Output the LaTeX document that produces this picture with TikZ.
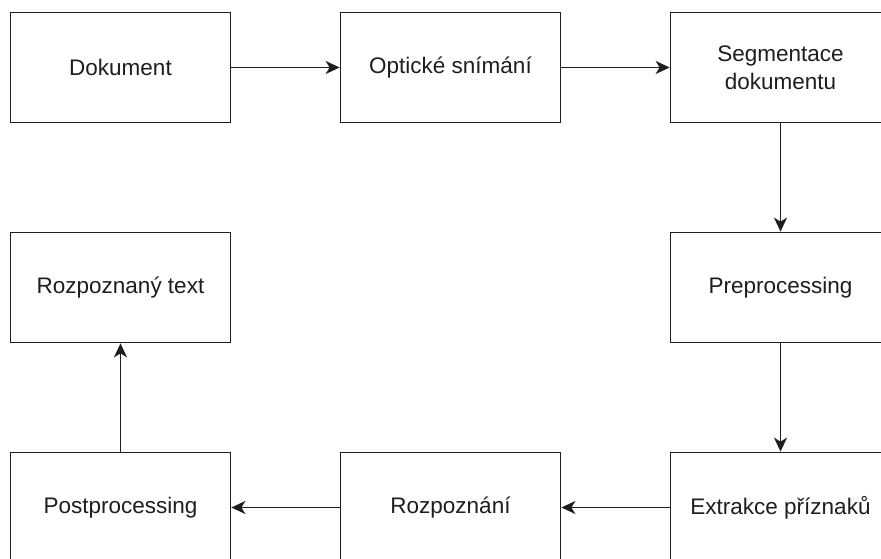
\documentclass[tikz,border=0pt]{standalone}
\usepackage{fontspec}
\setmainfont{Liberation Sans}
\usetikzlibrary{arrows.meta}
\definecolor{ink}{HTML}{1E1E1E}
\begin{document}
\begin{tikzpicture}[x=1pt,y=-1pt,
  stage/.style={draw=ink, line width=1.7pt, fill=white, minimum width=220pt, minimum height=110pt,
    inner sep=0pt, align=center, text=ink, font=\fontsize{22.5}{28}\selectfont},
  flow/.style={draw=ink, line width=1.7pt, -{Stealth[length=14pt,width=13pt,inset=4pt]}}]
  \useasboundingbox (0,0) rectangle (881,559);
  \clip (0,0) rectangle (881,559);
  % top row
  \node[stage] (dok) at (120.5,67.5) {Dokument};
  \node[stage] (opt) at (450.5,67.5) {Optické snímání};
  \node[stage] (seg) at (780.5,67.5) {Segmentace\\dokumentu};
  % middle row
  \node[stage] (roz) at (120.5,287.5) {Rozpoznaný text};
  \node[stage] (pre) at (780.5,287.5) {Preprocessing};
  % bottom row
  \node[stage] (post) at (120.5,507.5) {Postprocessing};
  \node[stage] (rzn) at (450.5,507.5) {Rozpoznání};
  \node[stage] (ext) at (780.5,507.5) {Extrakce příznaků};
  % connectors
  \draw[flow] (dok) -- (opt);
  \draw[flow] (opt) -- (seg);
  \draw[flow] (seg) -- (pre);
  \draw[flow] (pre) -- (ext);
  \draw[flow] (ext) -- (rzn);
  \draw[flow] (rzn) -- (post);
  \draw[flow] (post) -- (roz);
\end{tikzpicture}
\end{document}
